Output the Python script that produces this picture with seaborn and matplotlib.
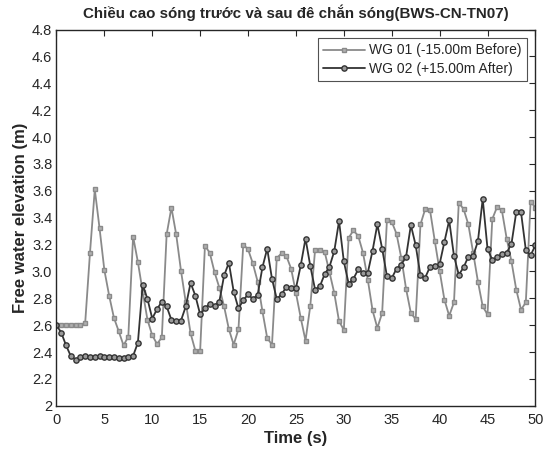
import numpy as np
import pandas as pd
import seaborn as sns
import matplotlib.pyplot as plt

# wave gauge readings, sampled every 0.5 s from 0 to 50 s
wg01 = [2.6, 2.6, 2.6, 2.6, 2.6, 2.6, 2.62, 3.14, 3.61, 3.32,
        3.01, 2.82, 2.655, 2.555, 2.45, 2.515, 3.26, 3.07, 2.85, 2.64,
        2.525, 2.46, 2.51, 3.275, 3.475, 3.275, 3.005, 2.77, 2.54, 2.41,
        2.41, 3.19, 3.14, 2.995, 2.88, 2.74, 2.57, 2.455, 2.57, 3.2,
        3.165, 3.06, 2.925, 2.705, 2.505, 2.455, 3.1, 3.135, 3.115, 3.02,
        2.84, 2.655, 2.485, 2.745, 3.16, 3.16, 3.145, 2.995, 2.84, 2.63,
        2.565, 3.25, 3.305, 3.265, 3.14, 2.94, 2.71, 2.58, 2.69, 3.38,
        3.37, 3.28, 3.10, 2.87, 2.69, 2.645, 3.35, 3.465, 3.455, 3.225,
        3.005, 2.79, 2.67, 2.77, 3.51, 3.465, 3.35, 3.14, 2.925, 2.74,
        2.68, 3.39, 3.48, 3.455, 3.245, 3.075, 2.865, 2.715, 2.77, 3.52,
        3.475]
wg02 = [2.6, 2.545, 2.45, 2.37, 2.345, 2.36, 2.37, 2.365, 2.365, 2.37,
        2.365, 2.362, 2.36, 2.358, 2.358, 2.36, 2.372, 2.47, 2.9, 2.795,
        2.65, 2.72, 2.775, 2.74, 2.64, 2.635, 2.635, 2.74, 2.915, 2.82,
        2.68, 2.725, 2.76, 2.745, 2.775, 2.97, 3.065, 2.85, 2.725, 2.785,
        2.83, 2.795, 2.825, 3.03, 3.17, 2.945, 2.795, 2.83, 2.885, 2.875,
        2.875, 3.045, 3.245, 3.04, 2.865, 2.89, 2.98, 3.035, 3.15, 3.375,
        3.075, 2.91, 2.945, 3.015, 2.99, 2.99, 3.155, 3.35, 3.17, 2.965,
        2.95, 3.02, 3.05, 3.11, 3.345, 3.195, 2.97, 2.955, 3.035, 3.04,
        3.055, 3.22, 3.38, 3.115, 2.975, 3.03, 3.11, 3.115, 3.225, 3.54,
        3.17, 3.085, 3.105, 3.13, 3.14, 3.205, 3.44, 3.44, 3.16, 3.12,
        3.195]
time = [i * 0.5 for i in range(len(wg01))]

labels = ['WG 01 (-15.00m Before)', 'WG 02 (+15.00m After)']
xticks = [0, 5, 10, 15, 20, 25, 30, 35, 40, 45, 50]
yticks = [2.0, 2.2, 2.4, 2.6, 2.8, 3.0, 3.2, 3.4, 3.6, 3.8, 4.0, 4.2, 4.4, 4.6, 4.8]
ytick_labels = ['2', '2.2', '2.4', '2.6', '2.8', '3.0', '3.2', '3.4', '3.6',
                '3.8', '4.0', '4.2', '4.4', '4.6', '4.8']

sns.set_style('white')
plt.rcParams['font.family'] = ['Liberation Sans', 'DejaVu Sans']

df = pd.DataFrame({'Time': time, 'WG01': wg01, 'WG02': wg02})

fig = plt.figure(figsize=(5.43, 4.54), dpi=100)
ax = fig.add_axes([0.104, 0.106, 0.882, 0.829])

sns.lineplot(data=df, x='Time', y='WG01', ax=ax, color='#8a8a8a', lw=1.3,
             marker='s', markersize=3.3, markerfacecolor='#b0b0b0',
             markeredgecolor='#8a8a8a', markeredgewidth=1, label=labels[0])
sns.lineplot(data=df, x='Time', y='WG02', ax=ax, color='#333333', lw=1.3,
             marker='o', markersize=3.8, markerfacecolor='#999999',
             markeredgecolor='#333333', markeredgewidth=1, label=labels[1])

ax.set_xlim(0, 50)
ax.set_ylim(2, 4.8)
ax.set_xticks(xticks)
ax.set_yticks(yticks)
ax.set_yticklabels(ytick_labels)
ax.tick_params(direction='in', length=4, width=0.8, top=True, right=True,
               labelsize=10.5, labelcolor='#262626', color='#262626')
ax.tick_params(axis='x', pad=5)
ax.tick_params(axis='y', pad=3)
for s in ax.spines.values():
    s.set_color('#262626')
    s.set_linewidth(1)

ax.set_title('Chiều cao sóng trước và sau đê chắn sóng(BWS-CN-TN07)',
             fontsize=10.9, fontweight='bold', pad=8)
ax.set_xlabel('Time (s)', fontsize=12, fontweight='bold', labelpad=3)
ax.set_ylabel('Free water elevation (m)', fontsize=12, fontweight='bold', labelpad=3)

leg = ax.legend(loc='upper right', fontsize=10, frameon=True, fancybox=False,
                handlelength=3, borderpad=0.4, labelspacing=0.3,
                handletextpad=0.3, borderaxespad=0.6)
leg.get_frame().set_edgecolor('#262626')
leg.get_frame().set_linewidth(0.8)

fig.savefig('out.png', dpi=100)
